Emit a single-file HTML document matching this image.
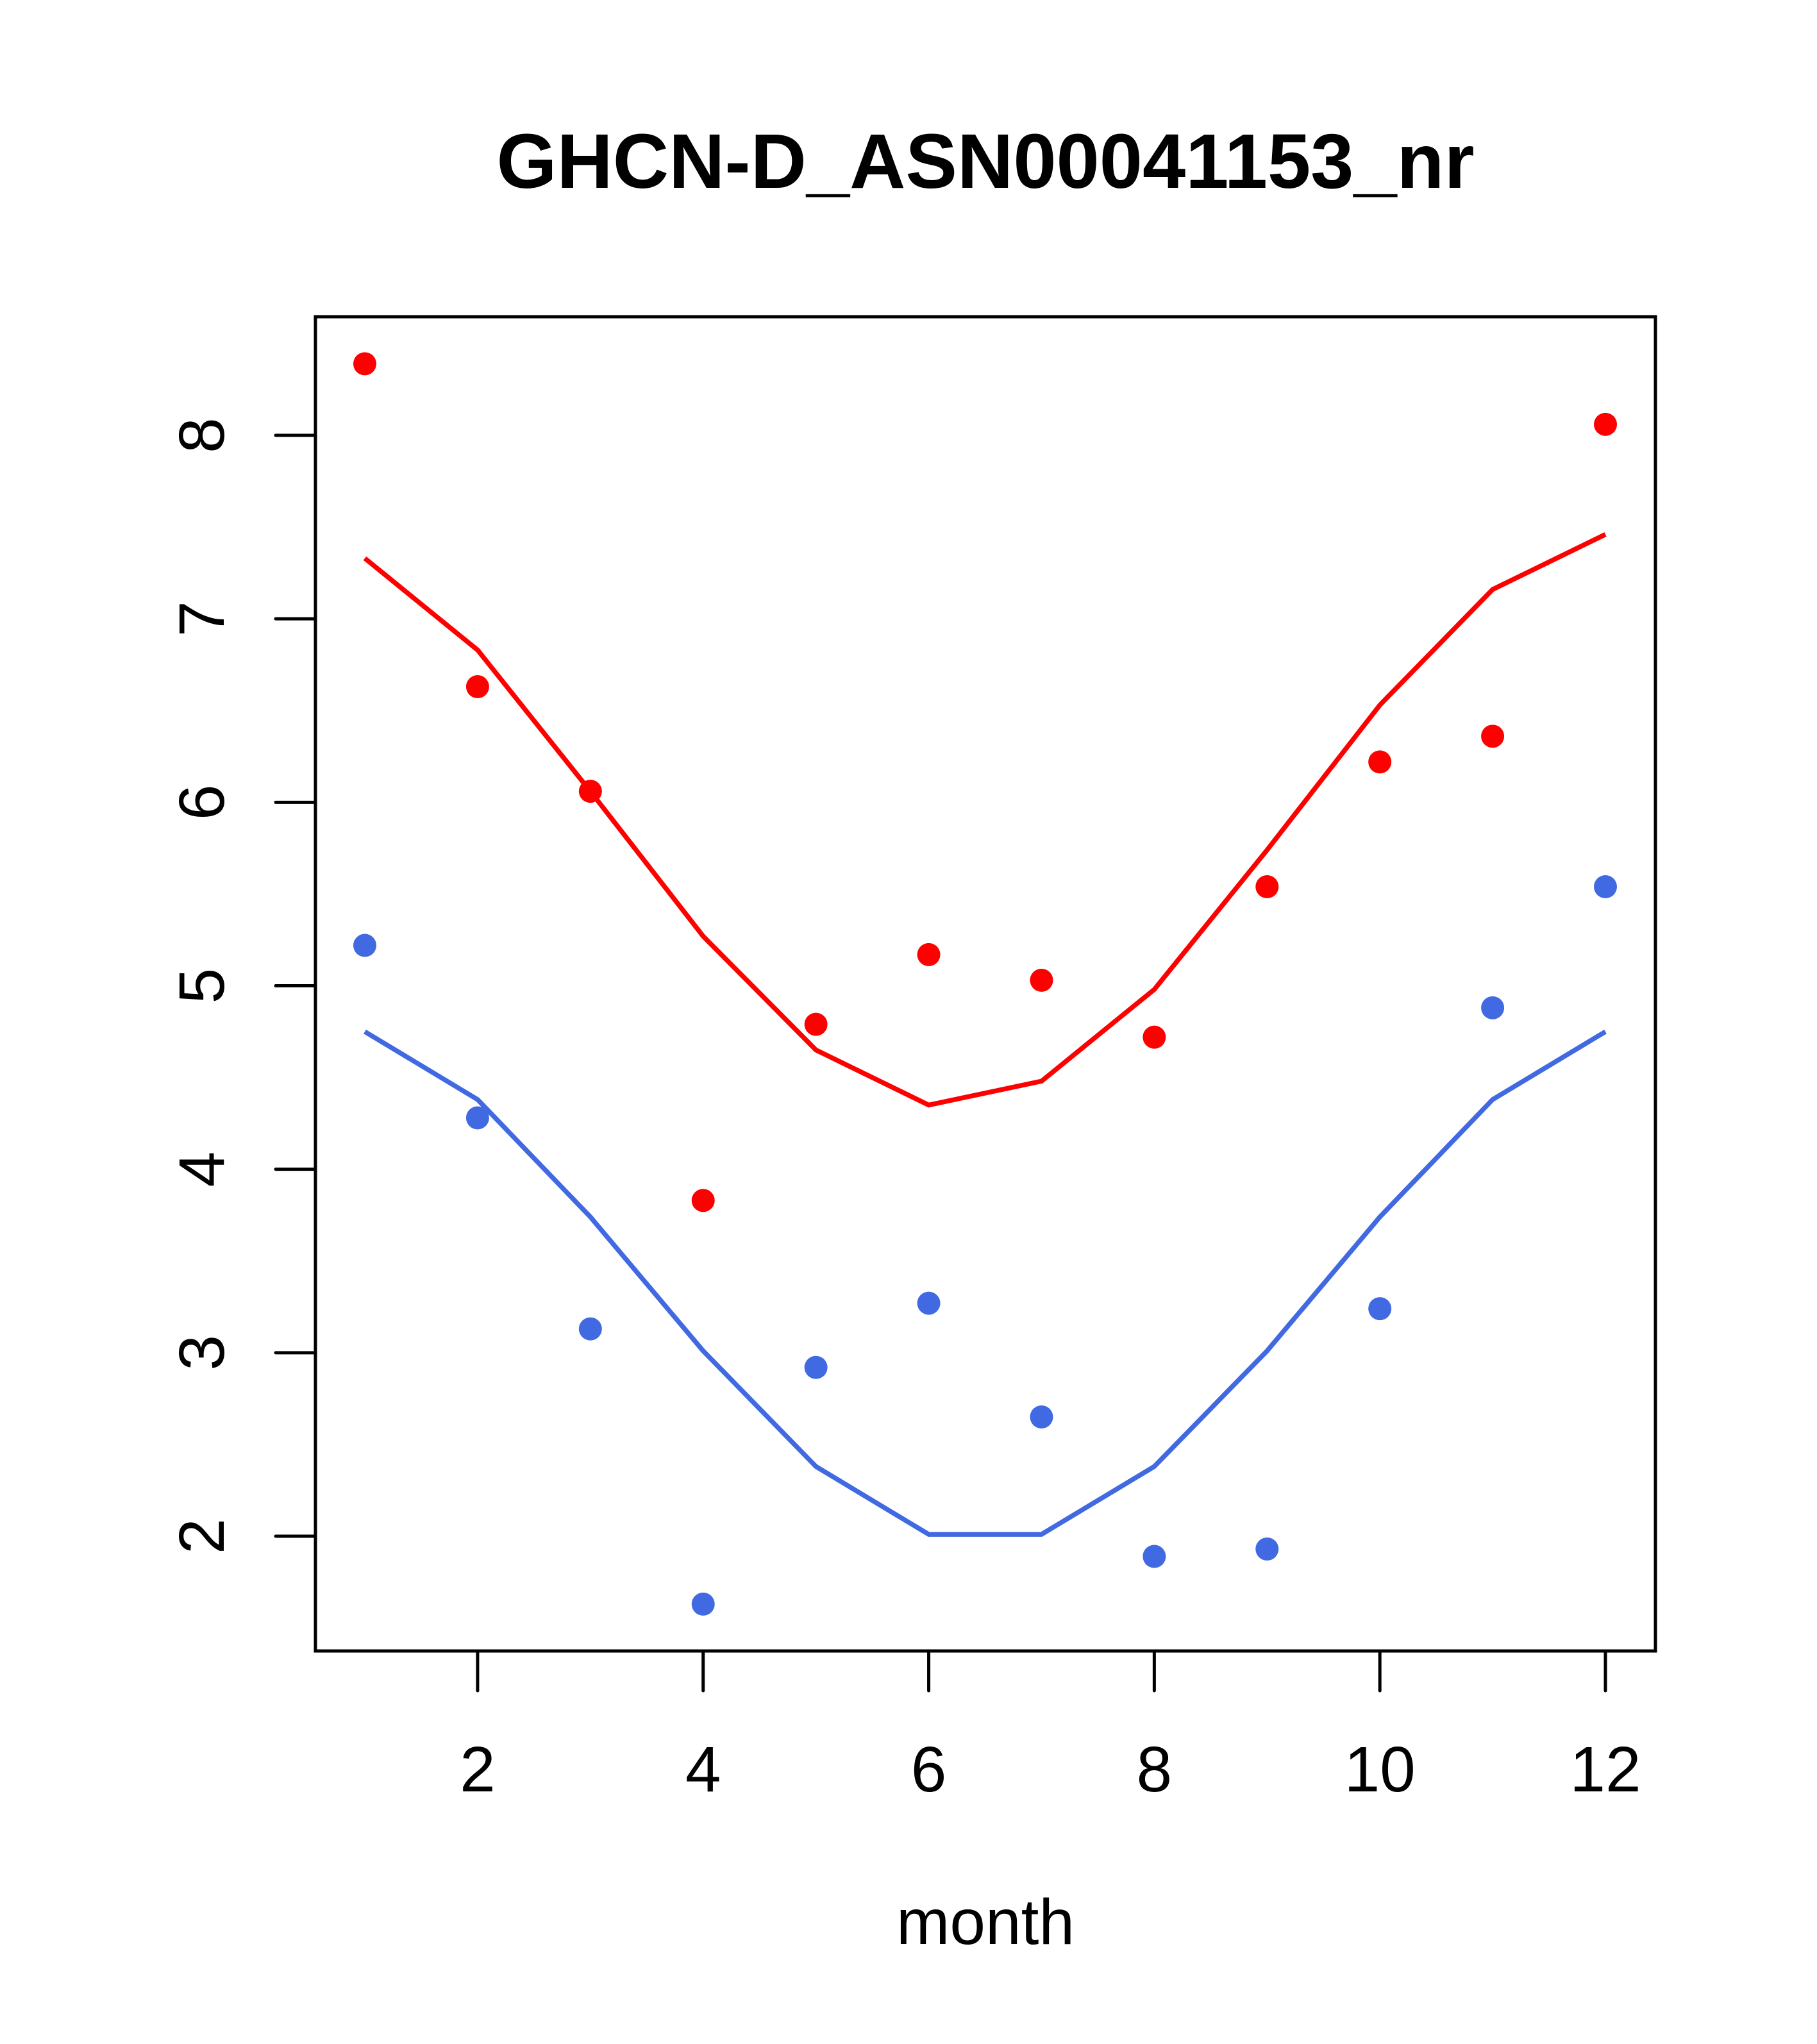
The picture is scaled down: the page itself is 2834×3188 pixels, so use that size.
<!DOCTYPE html>
<html><head><meta charset="utf-8"><style>html,body{margin:0;padding:0;background:#fff}svg{display:block}</style></head>
<body>
<svg id="chart" width="2834" height="3188" viewBox="0 0 2834 3188" xmlns="http://www.w3.org/2000/svg" font-family="Liberation Sans, sans-serif">
<rect width="2834" height="3188" fill="#fff"/>
<text x="1537" y="293" text-anchor="middle" font-size="121" font-weight="bold" textLength="1525" lengthAdjust="spacingAndGlyphs">GHCN-D_ASN00041153_nr</text>
<rect x="492" y="494" width="2090" height="2081" fill="none" stroke="#000" stroke-width="5"/>
<text x="1537" y="3032" text-anchor="middle" font-size="100">month</text>
<g id="axes"></g>
<g id="marks"></g>
</svg>
<script>
const months=[1,2,3,4,5,6,7,8,9,10,11,12];
const redPoints=[8.39,6.63,6.06,3.83,4.79,5.17,5.03,4.72,5.54,6.22,6.36,8.06];
const redLine=[7.33,6.83,6.06,5.27,4.65,4.35,4.48,4.98,5.74,6.53,7.16,7.46];
const bluePoints=[5.22,4.28,3.13,1.63,2.92,3.27,2.65,1.89,1.93,3.24,4.88,5.54];
const blueLine=[4.75,4.38,3.74,3.01,2.38,2.01,2.01,2.38,3.01,3.74,4.38,4.75];
const xTicks=[2,4,6,8,10,12];
const yTicks=[2,3,4,5,6,7,8];
const NS="http://www.w3.org/2000/svg";
function sx(v){return 569+(v-1)*(2504-569)/11;}
function sy(v){return 2396-(v-2)*(2396-679)/6;}
function mk(tag,attrs,parent){const e=document.createElementNS(NS,tag);for(const k in attrs)e.setAttribute(k,attrs[k]);parent.appendChild(e);return e;}
const axes=document.getElementById('axes'),marks=document.getElementById('marks');
const xa=mk('line',{x1:sx(2),x2:sx(12),y1:2575,y2:2575,stroke:'#000','stroke-width':5,'stroke-linecap':'round'},axes);


xTicks.forEach(t=>{
 const l=mk('line',{x1:sx(t),x2:sx(t),y1:2575,y2:2637,stroke:'#000','stroke-width':5,'stroke-linecap':'round'},axes);
 
 
 const tx=mk('text',{x:sx(t),y:2794,'text-anchor':'middle','font-size':100},axes);tx.textContent=t;
 
 
});
const ya=mk('line',{x1:492,x2:492,y1:sy(2),y2:sy(8),stroke:'#000','stroke-width':5,'stroke-linecap':'round'},axes);


yTicks.forEach(t=>{
 const l=mk('line',{x1:430,x2:492,y1:sy(t),y2:sy(t),stroke:'#000','stroke-width':5,'stroke-linecap':'round'},axes);
 
 
 const tx=mk('text',{x:0,y:0,'text-anchor':'middle','font-size':100,transform:`translate(349,${sy(t)}) rotate(-90)`},axes);tx.textContent=t;
 
 
});
function line(vals,color,name){
 const p=mk('polyline',{points:months.map((m,i)=>sx(m)+','+sy(vals[i])).join(' '),fill:'none',stroke:color,'stroke-width':7.5},marks);
 
 
}
function pts(vals,color,name){
 months.forEach((m,i)=>{
  const c=mk('circle',{cx:sx(m),cy:sy(vals[i]),r:18,fill:color},marks);
  
  
 });
}
line(redLine,'#ff0000','red-line');
line(blueLine,'#4169e1','blue-line');
pts(redPoints,'#ff0000','red-point');
pts(bluePoints,'#4169e1','blue-point');
</script>
</body></html>
